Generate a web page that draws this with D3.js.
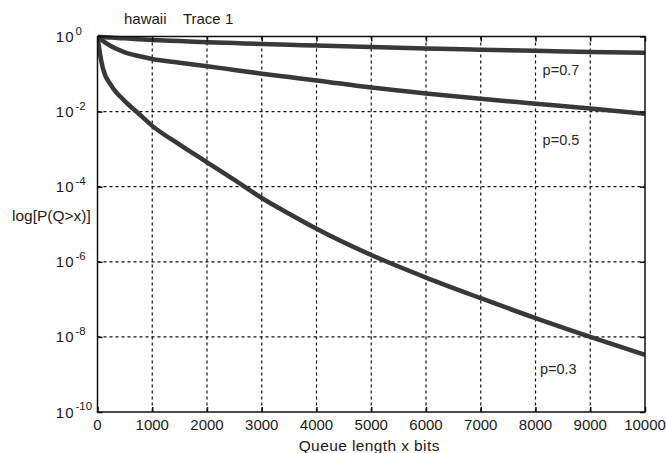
<!DOCTYPE html>
<html>
<head>
<meta charset="utf-8">
<script src="https://cdn.jsdelivr.net/npm/d3@7/dist/d3.min.js"></script>
<style>
  html, body { margin: 0; padding: 0; background: #fff; }
  svg { display: block; font-family: "Liberation Sans", Arial, sans-serif; }
</style>
</head>
<body>
<svg id="chart" width="666" height="453"></svg>
<script>
// ---- data ----
const chartTitle = "hawaii    Trace 1";
const xLabel = "Queue length x bits";
const yLabel = "log[P(Q>x)]";
const xTicks = [0, 1000, 2000, 3000, 4000, 5000, 6000, 7000, 8000, 9000, 10000];
const yTickExponents = [0, -2, -4, -6, -8, -10];

// queue length samples (bits)
const queueBits = [0, 50, 100, 250, 500, 750, 1000, 1500, 2000, 2500, 3000, 3500, 4000, 5000, 6000, 7000, 8000, 9000, 10000];
// log10 P(Q>x) for each series
const log10P_p07 = [0, -0.006, -0.012, -0.03, -0.05, -0.07, -0.09, -0.12, -0.15, -0.175, -0.2, -0.22, -0.24, -0.28, -0.32, -0.35, -0.38, -0.41, -0.43];
const log10P_p05 = [0, -0.07, -0.12, -0.26, -0.42, -0.52, -0.6, -0.7, -0.79, -0.89, -0.99, -1.08, -1.17, -1.36, -1.52, -1.66, -1.79, -1.92, -2.06];
const log10P_p03 = [0, -0.5, -0.85, -1.3, -1.72, -2.05, -2.38, -2.88, -3.35, -3.82, -4.3, -4.72, -5.12, -5.82, -6.42, -6.97, -7.5, -8.0, -8.48];

const seriesNames = ["p=0.7", "p=0.5", "p=0.3"];
const seriesLog = [log10P_p07, log10P_p05, log10P_p03];
// label anchor (x in bits, exponent) for each series label
const labelX = [8130, 8130, 8080];
const labelExp = [-1.03, -2.9, -9.0];

// ---- layout ----
const W = 666, H = 453;
const margin = { top: 36.5, right: 21, bottom: 41, left: 97.5 };
const iw = W - margin.left - margin.right;
const ih = H - margin.top - margin.bottom;

const svg = d3.select("#chart");
const g = svg.append("g").attr("transform", `translate(${margin.left},${margin.top})`);

const x = d3.scaleLinear().domain([0, 10000]).range([0, iw]);
const y = d3.scaleLog().domain([1e-10, 1]).range([ih, 0]);

const textColor = "#1a1a1a";

// grid
g.append("g").selectAll("line.vg").data(xTicks.slice(1, -1)).join("line")
  .attr("x1", d => x(d)).attr("x2", d => x(d))
  .attr("y1", 0).attr("y2", ih)
  .attr("stroke", "#111").attr("stroke-width", 1.2).attr("stroke-dasharray", "3,3");
g.append("g").selectAll("line.hg").data(yTickExponents.slice(1, -1)).join("line")
  .attr("x1", 0).attr("x2", iw)
  .attr("y1", d => y(Math.pow(10, d))).attr("y2", d => y(Math.pow(10, d)))
  .attr("stroke", "#111").attr("stroke-width", 1.2).attr("stroke-dasharray", "3,3");

// curves
const clip = g.append("clipPath").attr("id", "clip").append("rect")
  .attr("x", 0).attr("y", -2).attr("width", iw).attr("height", ih + 2);
const line = d3.line()
  .x(d => x(d[0]))
  .y(d => y(Math.pow(10, d[1])))
  .curve(d3.curveMonotoneX);
g.append("g").attr("clip-path", "url(#clip)").selectAll("path").data(seriesLog).join("path")
  .attr("d", s => line(queueBits.map((q, i) => [q, s[i]])))
  .attr("fill", "none").attr("stroke", "#383838").attr("stroke-width", 4.5)
  .attr("stroke-linejoin", "round").attr("stroke-linecap", "butt");

// axes box
g.append("rect").attr("x", 0).attr("y", 0).attr("width", iw).attr("height", ih)
  .attr("fill", "none").attr("stroke", "#111").attr("stroke-width", 1.5);

// inner ticks on all four sides
const tickLen = 5;
const xAxisB = d3.axisBottom(x).tickValues(xTicks).tickSizeInner(-tickLen).tickSizeOuter(0).tickFormat("");
const xAxisT = d3.axisTop(x).tickValues(xTicks).tickSizeInner(-tickLen).tickSizeOuter(0).tickFormat("");
const yVals = yTickExponents.map(e => Math.pow(10, e));
const yAxisL = d3.axisLeft(y).tickValues(yVals).tickSizeInner(-tickLen).tickSizeOuter(0).tickFormat("");
const yAxisR = d3.axisRight(y).tickValues(yVals).tickSizeInner(-tickLen).tickSizeOuter(0).tickFormat("");
[[xAxisB, `translate(0,${ih})`], [xAxisT, "translate(0,0)"], [yAxisL, "translate(0,0)"], [yAxisR, `translate(${iw},0)`]]
  .forEach(([ax, tr]) => {
    const a = g.append("g").attr("transform", tr).call(ax);
    a.select(".domain").remove();
    a.selectAll("line").attr("stroke", "#111").attr("stroke-width", 1.5);
  });

// x tick labels
g.append("g").selectAll("text").data(xTicks).join("text")
  .attr("x", d => x(d)).attr("y", ih + 18)
  .attr("text-anchor", "middle").attr("font-size", 15).attr("fill", textColor)
  .text(d => d);

// y tick labels 10^k
const yl = g.append("g").selectAll("g").data(yTickExponents).join("g")
  .attr("transform", d => `translate(0,${y(Math.pow(10, d))})`);
yl.append("text").attr("x", -23).attr("y", 5.5).attr("text-anchor", "end")
  .attr("font-size", 15).attr("fill", textColor).attr("letter-spacing", 1).text("10");
yl.append("text").attr("x", -22).attr("y", -2).attr("text-anchor", "start")
  .attr("font-size", 11.5).attr("fill", textColor).text(d => d === 0 ? "0" : "-" + Math.abs(d));

// series labels
g.append("g").selectAll("text").data(seriesNames).join("text")
  .attr("x", (d, i) => x(labelX[i])).attr("y", (d, i) => y(Math.pow(10, labelExp[i])))
  .attr("font-size", 14.5).attr("fill", "#2a2a2a")
  .text(d => d);

// title
svg.append("text").attr("x", 124).attr("y", 24).attr("font-size", 15).attr("fill", textColor)
  .attr("xml:space", "preserve").style("white-space", "pre").text(chartTitle);

// axis labels
svg.append("text").attr("x", 12).attr("y", 221).attr("font-size", 15.5).attr("fill", textColor).text(yLabel);
svg.append("text").attr("x", margin.left + iw / 2 - 2).attr("y", 451).attr("text-anchor", "middle")
  .attr("font-size", 15.5).attr("fill", textColor).attr("letter-spacing", 0.4).text(xLabel);
</script>
</body>
</html>
